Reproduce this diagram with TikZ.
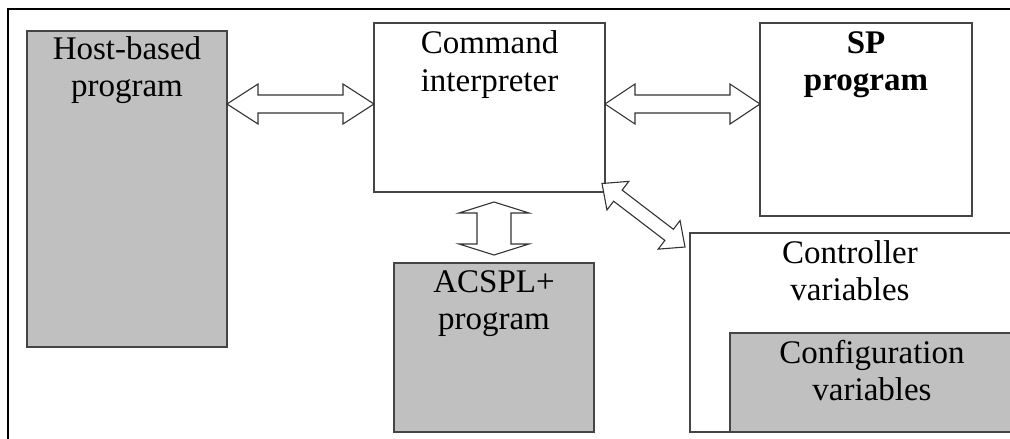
\documentclass[tikz,border=0pt]{standalone}
\usepackage{fontspec}
\setmainfont{Liberation Serif}
\usetikzlibrary{calc}
\definecolor{boxgray}{HTML}{C0C0C0}
\definecolor{edgegray}{HTML}{454545}
\tikzset{
  box/.style={draw=edgegray, line width=2pt, outer sep=0pt, inner sep=0pt, anchor=north west},
  graybox/.style={box, fill=boxgray},
  whitebox/.style={box, fill=white},
  lbl/.style={anchor=north, inner sep=0pt, align=center, font=\fontsize{33}{37.5}\selectfont},
  blockarrow/.style={draw=black!80, line width=1.1pt, fill=white, line join=miter},
  framelines/.style={draw=black, line width=1.3pt}
}
% double-headed block arrow between two named coordinates:
% #1,#2 tips, #3 shaft half-width, #4 head half-width, #5 head length
\newcommand\dblarrow[5]{%
  \draw[blockarrow] (#1)
    -- ($(#1)!#5!(#2)!#4!90:(#2)$)
    -- ($(#1)!#5!(#2)!#3!90:(#2)$)
    -- ($(#2)!#5!(#1)!#3!-90:(#1)$)
    -- ($(#2)!#5!(#1)!#4!-90:(#1)$)
    -- (#2)
    -- ($(#2)!#5!(#1)!#4!90:(#1)$)
    -- ($(#2)!#5!(#1)!#3!90:(#1)$)
    -- ($(#1)!#5!(#2)!#3!-90:(#2)$)
    -- ($(#1)!#5!(#2)!#4!-90:(#2)$)
    -- cycle;}

\begin{document}
\begin{tikzpicture}[x=1pt,y=-1pt]
\useasboundingbox (0,0) rectangle (1010,439);
\clip (0,0) rectangle (1010,439);
\fill[white] (0,0) rectangle (1010,439);

% outer frame (left and top edges)
\coordinate (fa) at (8,440);
\coordinate (fb) at (8,9);
\coordinate (fc) at (1011,9);
\draw[framelines] (fa) -- (fb) -- (fc);

% blocks
\node[graybox, minimum width=200pt, minimum height=316pt] (host) at (27,31) {};
\node[whitebox, minimum width=231pt, minimum height=169pt] (cmd) at (374,22.5) {};
\node[whitebox, minimum width=212pt, minimum height=193.5pt] (sp) at (760,22.5) {};
\node[graybox, minimum width=200pt, minimum height=169pt] (acs) at (394,263) {};
\node[whitebox, minimum width=330pt, minimum height=199pt] (ctrl) at (690,233) {};
\node[graybox, minimum width=290pt, minimum height=99pt] (cfg) at (730,333) {};

% labels
\node[lbl] (hostt) at ([yshift=-5pt]host.north) {Host-based\\program};
\node[lbl] (cmdt) at ([yshift=-8pt]cmd.north) {Command\\interpreter};
\node[lbl, font=\fontsize{33}{37}\selectfont\bfseries] (spt) at ([yshift=-9pt]sp.north) {SP\\program};
\node[lbl] (acst) at ([yshift=-7pt]acs.north) {ACSPL+\\program};
\node[lbl] (ctrlt) at ([xshift=160pt,yshift=-7pt]ctrl.north west) {Controller\\variables};
\node[lbl] (cfgt) at ([xshift=142pt,yshift=-7pt]cfg.north west) {Configuration\\variables};

% arrow end points
\coordinate (a1) at ([yshift=-73pt]host.north east);
\coordinate (b1) at ([yshift=-81.5pt]cmd.north west);
\coordinate (a2) at ([yshift=-81.5pt]cmd.north east);
\coordinate (b2) at ([yshift=-81.5pt]sp.north west);
\coordinate (a3) at ([xshift=4.5pt,yshift=-10.5pt]cmd.south);
\coordinate (b3) at ([yshift=8pt]acs.north);
\coordinate (a4) at ([xshift=-3pt,yshift=8pt]cmd.south east);
\coordinate (b4) at ([xshift=-5pt,yshift=-14pt]ctrl.north west);

% connectors
\dblarrow{a1}{b1}{9pt}{20pt}{31pt}
\dblarrow{a2}{b2}{9pt}{20pt}{30pt}
\dblarrow{a3}{b3}{17pt}{35pt}{11pt}
\dblarrow{a4}{b4}{7pt}{18pt}{20pt}
\end{tikzpicture}
\end{document}
